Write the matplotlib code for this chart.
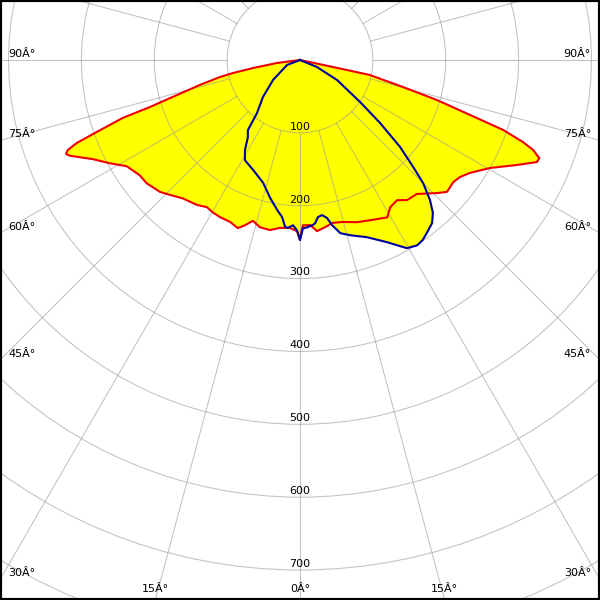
import numpy as np
import matplotlib.pyplot as plt

# red curve (C0-C180), angle from nadir (deg) and intensity (cd/klm)
red_left_ang = [0, 1.0, 3.4, 6.8, 10.0, 13.5, 16.3, 18.4, 20.3, 23.4, 27.0, 29.8, 32.3,
                35.4, 40.3, 43.9, 46.7, 51.2, 54.3, 58.5, 61.5, 64.4, 67.4, 68.1, 68.8,
                69.6, 70.5, 71.9, 72.6, 76.0, 78.0, 79.0, 80.3, 82.6, 90]
red_left_cd = [247, 235, 231, 232, 237, 236, 230, 239, 246, 242, 242, 241, 239,
               244, 249, 257, 264, 270, 271, 279, 297, 315, 342, 346, 342,
               327, 296, 256, 216, 142, 112, 94, 65, 32, 0]

red_right_ang = [0, 1.0, 3.5, 5.7, 8.5, 11.4, 14.9, 19.4, 23.6, 29.0, 31.5, 34.7, 37.4,
                 41.1, 45.8, 48.1, 51.4, 53.8, 56.4, 60.4, 64.2, 66.7, 67.7, 68.9, 69.8,
                 71.0, 72.1, 73.7, 75.3, 77.9, 78.0, 90]
red_right_cd = [245, 227, 227, 236, 232, 228, 230, 236, 240, 247, 237, 234, 242,
                244, 262, 271, 269, 272, 280, 300, 331, 354, 355, 343, 326,
                295, 245, 196, 146, 98, 50, 0]

# blue curve (C90-C270)
blue_left_ang = [0, 1.0, 2.4, 4.1, 5.1, 6.5, 8.7, 12.4, 16.7, 23.1, 28.8, 31.4, 34.0,
                 36.6, 39.0, 45.0, 53.5, 69.0, 90]
blue_left_cd = [247, 234, 227, 231, 230, 217, 208, 193, 176, 164, 157, 145, 128,
                120, 94, 72, 46, 19, 0]

blue_right_ang = [0, 1.0, 2.4, 4.5, 5.3, 6.5, 8.1, 9.7, 11.0, 13.1, 15.9, 20.7, 25.5,
                  29.6, 32.3, 34.3, 36.4, 39.0, 41.0, 42.9, 45.0, 46.6, 49.0, 51.8,
                  55.0, 61.6, 67.6, 90]
blue_right_cd = [247, 231, 230, 227, 225, 217, 215, 220, 231, 244, 250, 260, 277,
                 297, 301, 299, 294, 288, 278, 262, 239, 214, 182, 140,
                 101, 58, 25, 0]

rings = [100, 200, 300, 400, 500, 600, 700]
side_angles = [90, 75, 60, 45, 30]
bottom_angles = [15, 0]


def outline(left_ang, left_cd, right_ang, right_cd):
    la = np.radians(left_ang)[::-1]
    lc = np.asarray(left_cd, float)[::-1]
    ra = np.radians(right_ang)
    rc = np.asarray(right_cd, float)
    x = np.concatenate([-lc * np.sin(la), rc * np.sin(ra)])
    y = np.concatenate([-lc * np.cos(la), -rc * np.cos(ra)])
    return x, y


px = 0.7286  # pixels per cd/klm
xmax = 300 / px
ytop = 60 / px
ybot = -540 / px

fig = plt.figure(figsize=(6, 6), dpi=100)
ax = fig.add_axes([0, 0, 1, 1])
ax.set_xlim(-xmax, xmax)
ax.set_ylim(ybot, ytop)
ax.set_xticks([])
ax.set_yticks([])
for s in ax.spines.values():
    s.set_color('black')
    s.set_linewidth(3)

rx, ry = outline(red_left_ang, red_left_cd, red_right_ang, red_right_cd)
bx, by = outline(blue_left_ang, blue_left_cd, blue_right_ang, blue_right_cd)
ax.fill(rx, ry, color='#ffff00', lw=0, zorder=1)
ax.fill(bx, by, color='#ffff00', lw=0, zorder=1)

# grid
gcol = '#999999'
for r in range(100, 1000, 100):
    ax.add_patch(plt.Circle((0, 0), r, fill=False, ec=gcol, lw=0.75, alpha=0.6, zorder=2))
for a in range(0, 360, 15):
    t = np.radians(a)
    ax.plot([100 * np.sin(t), 1300 * np.sin(t)], [-100 * np.cos(t), -1300 * np.cos(t)],
            color=gcol, lw=0.75, alpha=0.6, zorder=2)

ax.plot(rx, ry, color='#ee0000', lw=1.5, zorder=3)
ax.plot(bx, by, color='#0000a0', lw=1.5, zorder=4)

fs = 8
for r in rings:
    ax.text(0, -r + 8.5, str(r), ha='center', va='center', fontsize=fs, zorder=5)

for a in side_angles:
    ye = 0 if a == 90 else -xmax / np.tan(np.radians(a))
    ax.text(-xmax + 8 / px, ye + 8.5, f"{a}Â°", ha='left', va='center', fontsize=fs, zorder=5)
    ax.text(xmax - 9 / px, ye + 8.5, f"{a}Â°", ha='right', va='center', fontsize=fs, zorder=5)

for a in bottom_angles:
    xe = -ybot * np.tan(np.radians(a))
    yl = ybot + 11 / px
    ax.text(-xe, yl, f"{a}Â°", ha='center', va='center', fontsize=fs, zorder=5)
    if a != 0:
        ax.text(xe, yl, f"{a}Â°", ha='center', va='center', fontsize=fs, zorder=5)

fig.savefig('out.png', dpi=100)
